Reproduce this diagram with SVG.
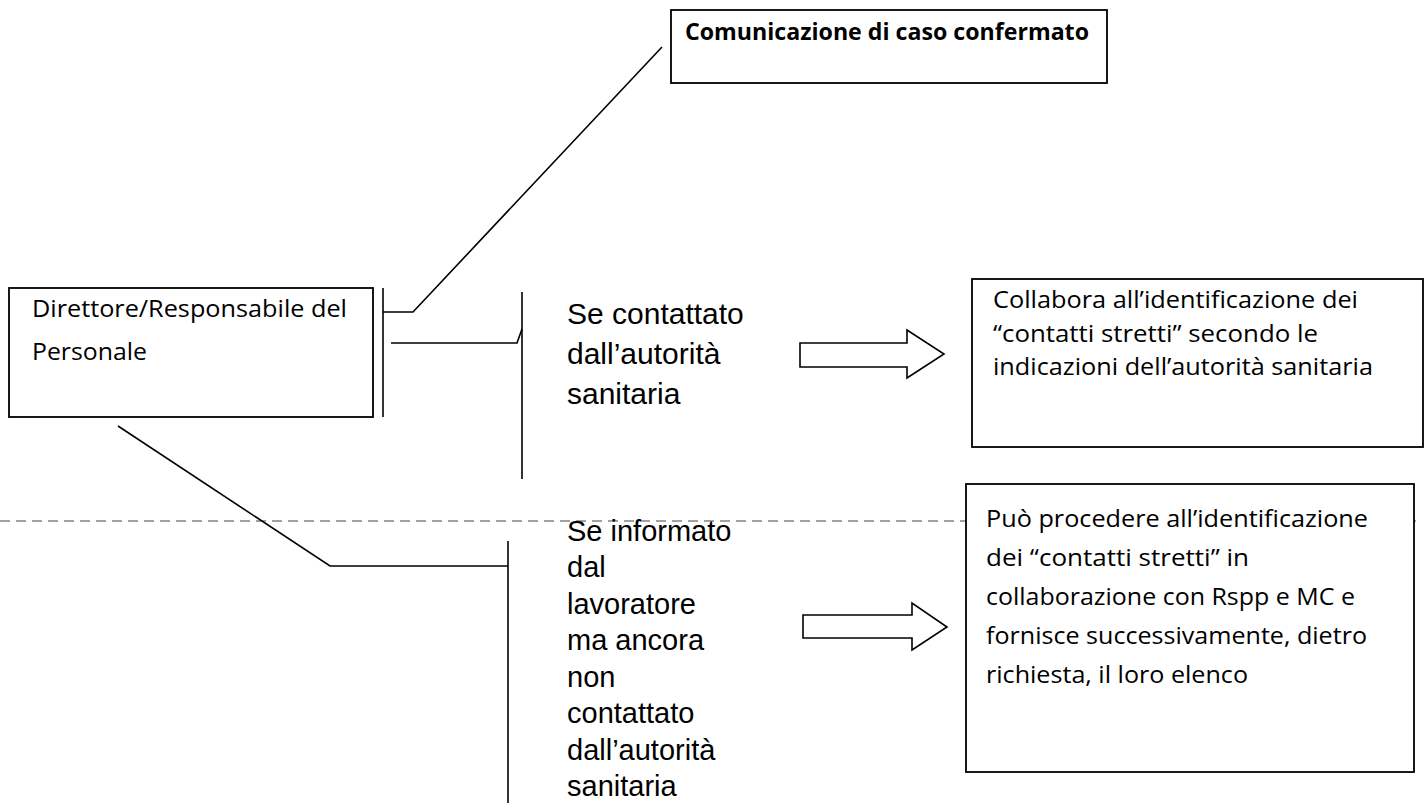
<svg xmlns="http://www.w3.org/2000/svg" width="1426" height="803" viewBox="0 0 1426 803">
<style>
.box{fill:#fff;stroke:#000;stroke-width:1.8}
.ln{fill:none;stroke:#000;stroke-width:1.6}
.arr{fill:#fff;stroke:#000;stroke-width:1.6;stroke-linejoin:miter}
.dash{fill:none;stroke:#444;stroke-width:1.2;stroke-dasharray:10 6}
.cal{font-family:"Open Sans","Noto Sans","Liberation Sans",sans-serif;font-size:24px;fill:#000}
.calb{font-family:"Open Sans","Noto Sans","Liberation Sans",sans-serif;font-size:23px;font-weight:bold;fill:#000}
.ar{font-family:"Liberation Sans",Arial,sans-serif;font-size:30px;fill:#000}
.ar2{font-family:"Liberation Sans",Arial,sans-serif;font-size:29px;fill:#000}
</style>
<rect width="1426" height="803" fill="#fff"/>
<g id="connectors">
<line class="dash" x1="0" y1="521" x2="1416" y2="521"/>
<polyline class="ln" points="662,47 413,312 383,312"/>
<line class="ln" x1="383" y1="288" x2="383" y2="417"/>
<polyline class="ln" points="391,343 517,343 522,329"/>
<line class="ln" x1="522" y1="292" x2="522" y2="479"/>
<polyline class="ln" points="118,426 330,566 508,566"/>
<line class="ln" x1="508" y1="541" x2="508" y2="803"/>
<polygon id="arrow1" class="arr" points="800,343 907,343 907,330 944,354 907,378 907,367 800,367"/>
<polygon id="arrow2" class="arr" points="803,615 912,615 912,603 947,627 912,650 912,638 803,638"/>
</g>
<g id="node-comunicazione">
<rect class="box" x="671" y="10" width="436" height="73"/>
<text class="calb" x="685" y="40" textLength="404" lengthAdjust="spacingAndGlyphs">Comunicazione di caso confermato</text>
</g>
<g id="node-direttore">
<rect class="box" x="9" y="288" width="364" height="129"/>
<text class="cal" x="32" y="317" textLength="315" lengthAdjust="spacingAndGlyphs">Direttore/Responsabile del</text>
<text class="cal" x="32" y="360" textLength="115" lengthAdjust="spacingAndGlyphs">Personale</text>
</g>
<g id="label-contattato">
<text class="ar" x="567" y="324">Se contattato</text>
<text class="ar" x="567" y="364">dall’autorità</text>
<text class="ar" x="567" y="404">sanitaria</text>
</g>
<g id="label-informato">
<text class="ar2" x="567" y="541">Se informato</text>
<text class="ar2" x="567" y="577">dal</text>
<text class="ar2" x="567" y="614">lavoratore</text>
<text class="ar2" x="567" y="650">ma ancora</text>
<text class="ar2" x="567" y="687">non</text>
<text class="ar2" x="567" y="723">contattato</text>
<text class="ar2" x="567" y="760">dall’autorità</text>
<text class="ar2" x="567" y="796">sanitaria</text>
</g>
<g id="node-collabora">
<rect class="box" x="972" y="279" width="451" height="168"/>
<text class="cal" x="993" y="308" textLength="365" lengthAdjust="spacingAndGlyphs">Collabora all’identificazione dei</text>
<text class="cal" x="993" y="342" textLength="325" lengthAdjust="spacingAndGlyphs">“contatti stretti” secondo le</text>
<text class="cal" x="993" y="375" textLength="380" lengthAdjust="spacingAndGlyphs">indicazioni dell’autorità sanitaria</text>
</g>
<g id="node-procedere">
<rect class="box" x="966" y="484" width="448" height="288" fill="none"/>
<text class="cal" x="986" y="527" textLength="382" lengthAdjust="spacingAndGlyphs">Può procedere all’identificazione</text>
<text class="cal" x="986" y="566" textLength="263" lengthAdjust="spacingAndGlyphs">dei “contatti stretti” in</text>
<text class="cal" x="986" y="605" textLength="369" lengthAdjust="spacingAndGlyphs">collaborazione con Rspp e MC e</text>
<text class="cal" x="986" y="644" textLength="381" lengthAdjust="spacingAndGlyphs">fornisce successivamente, dietro</text>
<text class="cal" x="986" y="683" textLength="262" lengthAdjust="spacingAndGlyphs">richiesta, il loro elenco</text>
</g>
</svg>
